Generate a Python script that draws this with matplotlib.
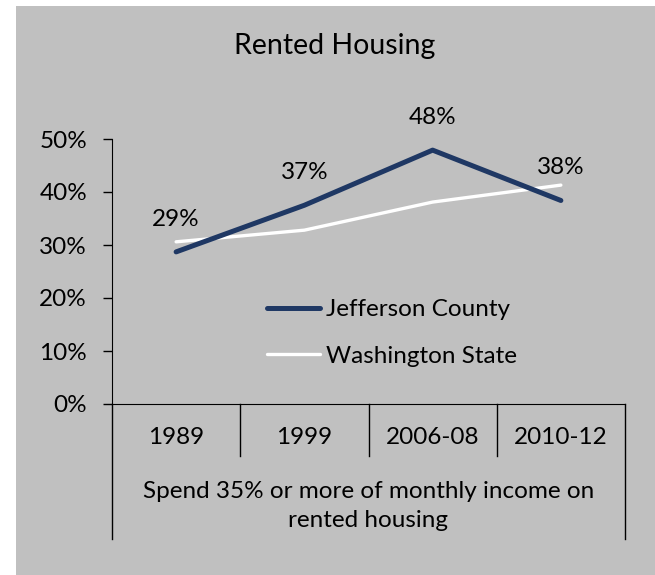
import matplotlib.pyplot as plt
from matplotlib.patches import Rectangle
import matplotlib.transforms as mtransforms

plt.rcParams['font.family'] = ['Lato', 'DejaVu Sans']

categories = ['1989', '1999', '2006-08', '2010-12']
group_label = 'Spend 35% or more of monthly income on\nrented housing'
jefferson = [28.7, 37.5, 47.9, 38.4]
washington = [30.6, 32.8, 38.1, 41.3]
jefferson_labels = ['29%', '37%', '48%', '38%']
yticks = [0, 10, 20, 30, 40, 50]

bg = '#c0c0c0'
navy = '#1f3864'
fs = 17.5

fig = plt.figure(figsize=(6.55, 5.75), dpi=100)
fig.patch.set_facecolor('white')
fig.add_artist(Rectangle((16 / 655, 0), 1 - 16 / 655, 1 - 6 / 575,
                         transform=fig.transFigure, facecolor=bg, edgecolor='none', zorder=0))

ax = fig.add_axes([112 / 655, 1 - 404 / 575, (625 - 112) / 655, (404 - 139) / 575])
ax.set_facecolor('none')

x = list(range(len(categories)))
ax.plot(x, jefferson, color=navy, lw=3.6, solid_capstyle='round', label='Jefferson County', zorder=3)
ax.plot(x, washington, color='white', lw=2.4, solid_capstyle='round', label='Washington State', zorder=2)

for xi, yi, lab in zip(x, jefferson, jefferson_labels):
    ax.annotate(lab, (xi, yi), xytext=(0, 23.5), textcoords='offset points',
                ha='center', va='center', fontsize=fs, color='black')

ax.set_xlim(-0.5, len(categories) - 0.5)
ax.set_ylim(0, 50)
ax.set_yticks(yticks)
ax.set_yticklabels([f'{t}%' for t in yticks])
ax.tick_params(axis='y', direction='out', length=6.5, width=1, pad=11.5,
               labelsize=fs, color='black')
ax.tick_params(axis='x', bottom=False, labelbottom=False)
for s in ['top', 'right']:
    ax.spines[s].set_visible(False)
ax.spines['left'].set_color('black')
ax.spines['bottom'].set_color('black')

# multi-level category axis
trans = mtransforms.blended_transform_factory(ax.transData, ax.transAxes)
row1 = -52 / 265
row2 = -135 / 265
for b in range(len(categories) + 1):
    xb = b - 0.5
    bottom = row2 if b in (0, len(categories)) else row1
    ax.plot([xb, xb], [0, bottom], color='black', lw=1, transform=trans, clip_on=False)
for xi, cat in zip(x, categories):
    ax.text(xi, -34 / 265, cat, transform=trans, ha='center', va='center', fontsize=fs)
ax.text((len(categories) - 1) / 2, -102 / 265, group_label, transform=trans,
        ha='center', va='center', fontsize=fs, linespacing=1.45)

ax.legend(loc='upper left', bbox_to_anchor=(0.302, 0.395), frameon=False, fontsize=fs,
          handlelength=2.2, handletextpad=0.22, labelspacing=1.05,
          borderpad=0, borderaxespad=0)

fig.text(335 / 655, 1 - 46 / 575, 'Rented Housing', ha='center', va='center', fontsize=20.5)

fig.savefig('out.png', dpi=100, facecolor=fig.get_facecolor())
